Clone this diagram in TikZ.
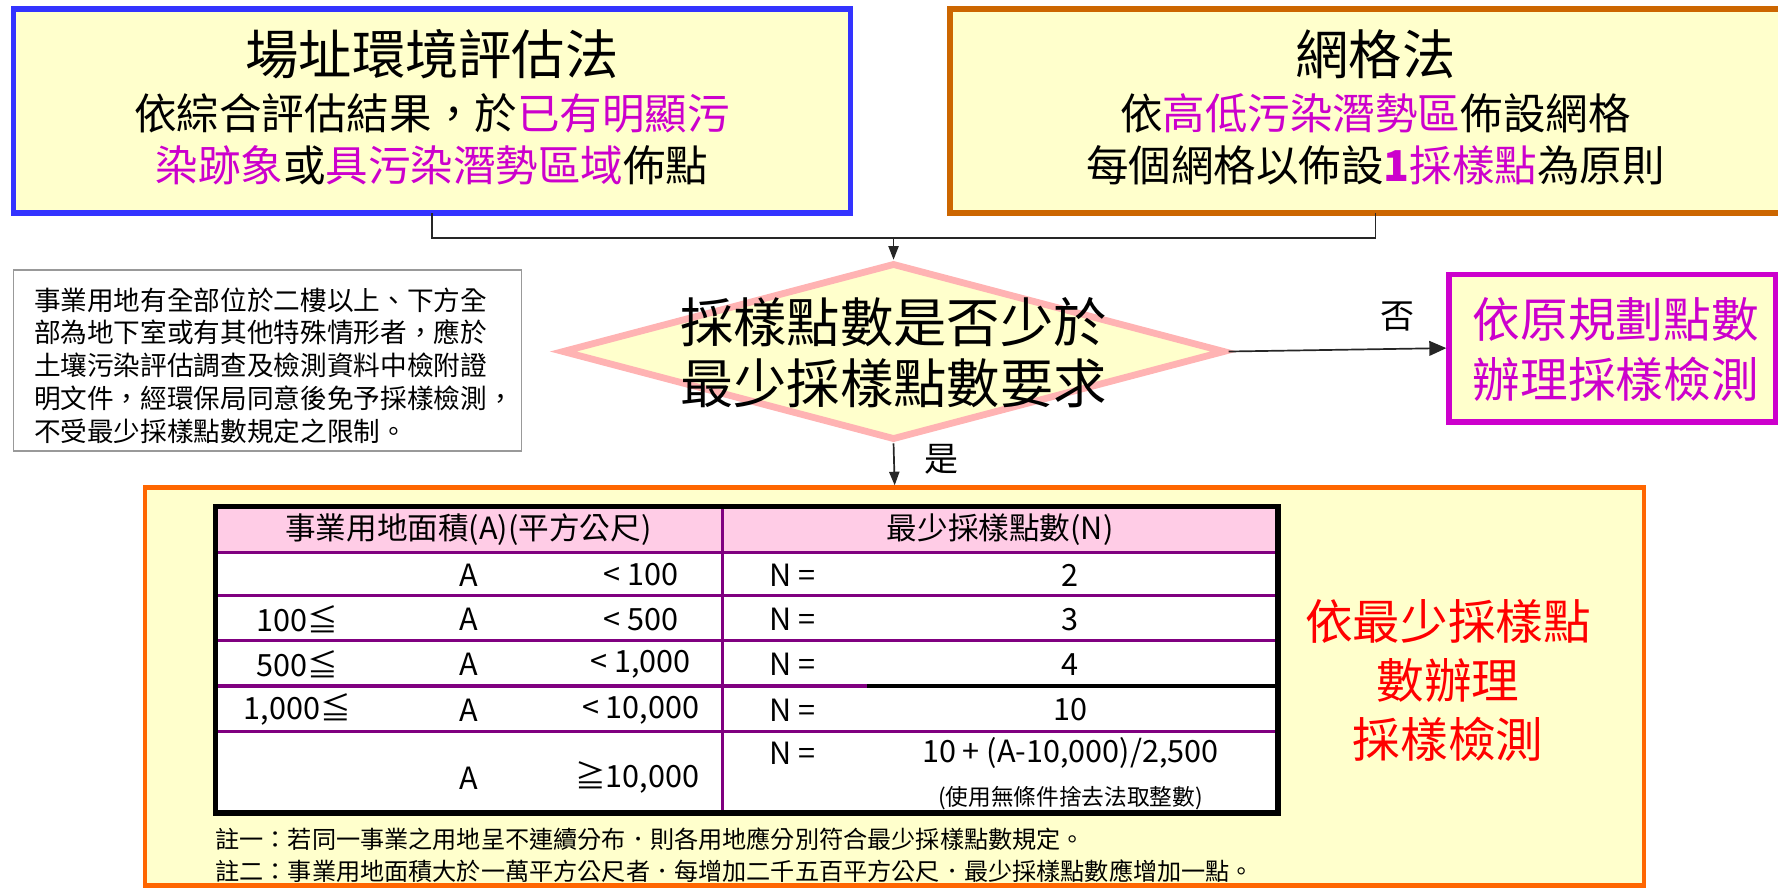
\documentclass[tikz,border=0pt]{standalone}
\usepackage{fontspec}
\setmainfont{Noto Sans CJK TC}
\usetikzlibrary{shapes.geometric,arrows.meta}
\definecolor{boxyellow}{HTML}{FFFFCC}
\definecolor{blueb}{HTML}{3333FF}
\definecolor{brownb}{HTML}{CC6600}
\definecolor{pinkb}{HTML}{FFB3B3}
\definecolor{mag}{HTML}{CC00CC}
\definecolor{orangeb}{HTML}{FF6600}
\definecolor{grayb}{HTML}{999999}
\definecolor{purp}{HTML}{800080}
\definecolor{hdrpink}{HTML}{FFCCE6}
\definecolor{redtxt}{HTML}{FF0000}
\begin{document}
\begin{tikzpicture}[x=1pt,y=-1pt,
  every node/.style={inner sep=0pt,outer sep=0pt},
  ybox/.style={draw,fill=boxyellow,rectangle},
  conn/.style={line width=1.5pt,draw=black!85},
  arr/.style={-{Triangle[length=12pt,width=9pt]}},
  bigarr/.style={-{Triangle[length=15pt,width=13pt]}},
  ttl/.style={font=\fontsize{47}{56}\selectfont},
  sub/.style={font=\fontsize{37.5}{45}\selectfont},
  cell/.style={font=\fontsize{27}{32}\selectfont},
  hdr/.style={font=\fontsize{27}{32}\selectfont},
  purpline/.style={draw=purp,line width=3pt},
]
\useasboundingbox (0,0) rectangle (1568,783);

% top boxes
\node[ybox,draw=blueb,line width=5pt,minimum width=738pt,minimum height=180pt] (lbox) at (381,98) {};
\node[ybox,draw=brownb,line width=5pt,minimum width=750pt,minimum height=180pt] (rbox) at (1213,98) {};
\node[ttl] (lt1) at (381,48) {場址環境評估法};
\node[sub] (lt2) at (381,100) {依綜合評估結果，於\textcolor{mag}{已有明顯污}};
\node[sub] (lt3) at (381,146) {\textcolor{mag}{染跡象}或\textcolor{mag}{具污染潛勢區域}佈點};
\node[ttl] (rt1) at (1213,48) {網格法};
\node[sub] (rt2) at (1213,100) {依\textcolor{mag}{高低污染潛勢區}佈設網格};
\node[sub] (rt3) at (1213,146) {每個網格以佈設\textcolor{mag}{\textbf{1}採樣點}為原則};

% decision
\node[diamond,draw=pinkb,fill=boxyellow,line width=6pt,minimum width=585pt,minimum height=156pt,outer sep=3pt] (dia) at (788,310) {};
\node[align=center,font=\fontsize{47}{53}\selectfont] (dt) at (788,311) {採樣點數是否少於\\最少採樣點數要求};

\coordinate (jn) at (788,210);
\draw[conn] (lbox.south) |- (jn);
\draw[conn] (rbox.south) |- (jn);
\draw[conn,arr] (jn) -- (dia.north);

% no branch
\node[ybox,draw=mag,line width=5pt,minimum width=288pt,minimum height=130pt,outer sep=2.5pt] (pbox) at (1422,307) {};
\node[align=center,text=mag,font=\fontsize{42}{53}\selectfont] (ptx) at (1425,308) {依原規劃點數\\辦理採樣檢測};
\draw[conn,bigarr] (dia.east) -- (pbox.west);
\node[font=\fontsize{30}{36}\selectfont] (no) at (1232,279) {否};

% note box
\node[draw=grayb,line width=1.5pt,fill=white,minimum width=448pt,minimum height=160pt] (note) at (236,318) {};
\node[anchor=west,align=left,font=\fontsize{23.5}{29}\selectfont] (ntx) at (30,322.5) {事業用地有全部位於二樓以上、下方全\\部為地下室或有其他特殊情形者，應於\\土壤污染評估調查及檢測資料中檢附證\\明文件，經環保局同意後免予採樣檢測，\\不受最少採樣點數規定之限制。};

% yes branch
\node[ybox,draw=orangeb,line width=4pt,minimum width=1322pt,minimum height=351pt,outer sep=2pt] (obox) at (789,605.5) {};
\draw[conn,arr] (dia.south) -- (obox.north);
\node[font=\fontsize{30}{36}\selectfont] (yes) at (830,405) {是};

% table
\fill[hdrpink] (190,447) rectangle (1127,487);
\fill[white] (190,487) rectangle (1127,717);
\draw[purpline] (190,487) -- (1127,487);
\draw[purpline] (190,525) -- (1127,525);
\draw[purpline] (190,565) -- (1127,565);
\draw[purpline] (190,605) -- (765,605);
\draw[line width=3pt] (765,605) -- (1127,605);
\draw[draw=purp,line width=2.5pt] (190,645) -- (1127,645);
\draw[draw=purp,line width=2.5pt] (637,447) -- (637,717);
\draw[line width=4.5pt] (190,447) rectangle (1127,717);

\node[hdr] (h1) at (413,467) {事業用地面積(A)(平方公尺)};
\node[hdr] (h2) at (882,467) {最少採樣點數(N)};

\node[cell] (a1) at (413,507) {A};
\node[cell] (b1) at (565,507) {< 100};
\node[cell] (c1) at (699,507) {N =};
\node[cell] (d1) at (944,507) {2};

\node[cell] (l2) at (262,546) {100≦};
\node[cell] (a2) at (413,546) {A};
\node[cell] (b2) at (565,546) {< 500};
\node[cell] (c2) at (699,546) {N =};
\node[cell] (d2) at (944,546) {3};

\node[cell] (l3) at (262,586) {500≦};
\node[cell] (a3) at (413,586) {A};
\node[cell] (b3) at (565,586) {< 1,000};
\node[cell] (c3) at (699,586) {N =};
\node[cell] (d3) at (944,586) {4};

\node[cell] (l4) at (262,626) {1,000≦};
\node[cell] (a4) at (413,626) {A};
\node[cell] (b4) at (565,626) {< 10,000};
\node[cell] (c4) at (699,626) {N =};
\node[cell] (d4) at (944,626) {10};

\node[cell] (a5) at (413,686) {A};
\node[cell] (b5) at (562,686) {≧10,000};
\node[cell] (c5) at (699,664) {N =};
\node[cell] (d5) at (944,664) {10 + (A-10,000)/2,500};
\node[font=\fontsize{20}{24}\selectfont] (e5) at (944,704) {(使用無條件捨去法取整數)};

\node[anchor=west,font=\fontsize{21.3}{24}\selectfont] (n1) at (190,740) {註一：若同一事業之用地呈不連續分布．則各用地應分別符合最少採樣點數規定。};
\node[anchor=west,font=\fontsize{21.3}{24}\selectfont] (n2) at (190,768) {註二：事業用地面積大於一萬平方公尺者．每增加二千五百平方公尺．最少採樣點數應增加一點。};

\node[align=center,text=redtxt,font=\fontsize{42}{52}\selectfont] (red) at (1277,600) {依最少採樣點\\數辦理\\採樣檢測};
\end{tikzpicture}
\end{document}
